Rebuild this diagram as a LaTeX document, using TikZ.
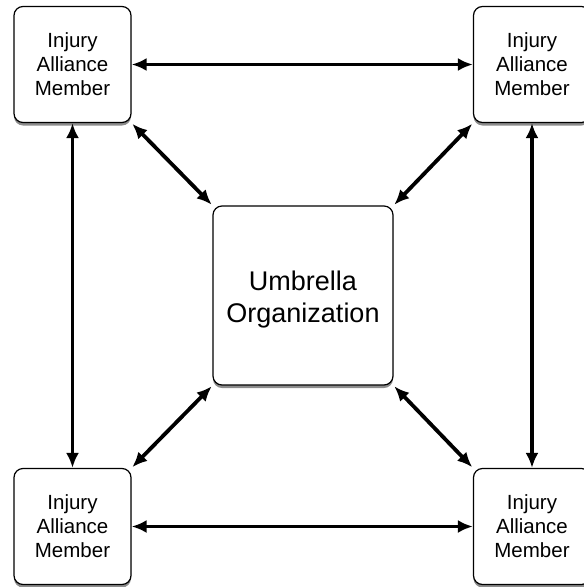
\documentclass[tikz,border=0pt]{standalone}
\usepackage{fontspec}
\setmainfont{Liberation Sans}
\usetikzlibrary{arrows.meta,shadows}
\tikzset{
	member/.style={draw, line width=1.2pt, rounded corners=9pt, fill=white,
		minimum width=117pt, minimum height=116pt, align=center,
		font=\fontsize{20.5}{24}\selectfont,
		drop shadow={shadow xshift=0pt, shadow yshift=-3pt, fill=black!45, opacity=1}},
	umbrella/.style={member, minimum width=180pt, minimum height=179pt,
		font=\fontsize{27}{32}\selectfont},
	link/.style={line width=3.8pt, {Latex[length=15pt,width=13pt]}-{Latex[length=15pt,width=13pt]}}
}
\begin{document}
\begin{tikzpicture}[x=1pt,y=-1pt]
	\useasboundingbox (0,0) rectangle (584,587);
	\node[member] (tl) at (72.5,64.5) {Injury\\Alliance\\Member};
	\node[member] (tr) at (532,64.5) {Injury\\Alliance\\Member};
	\node[member] (bl) at (72.5,526.5) {Injury\\Alliance\\Member};
	\node[member] (br) at (532,526.5) {Injury\\Alliance\\Member};
	\node[umbrella] (um) at (303,295.5) {\raisebox{-10.5pt}[0pt][0pt]{\begin{tabular}{@{}c@{}}Umbrella\\Organization\end{tabular}}};
	\draw[link] (tl.east) -- (tr.west);
	\draw[link] (bl.east) -- (br.west);
	\draw[link] (tl.south) -- (bl.north);
	\draw[link] (tr.south) -- (br.north);
	\draw[link, shorten <=1pt, shorten >=1pt] (tl.south east) -- (um.north west);
	\draw[link, shorten <=1pt, shorten >=1pt] (tr.south west) -- (um.north east);
	\draw[link, shorten <=1pt, shorten >=1pt] (bl.north east) -- (um.south west);
	\draw[link, shorten <=1pt, shorten >=1pt] (br.north west) -- (um.south east);
\end{tikzpicture}
\end{document}
